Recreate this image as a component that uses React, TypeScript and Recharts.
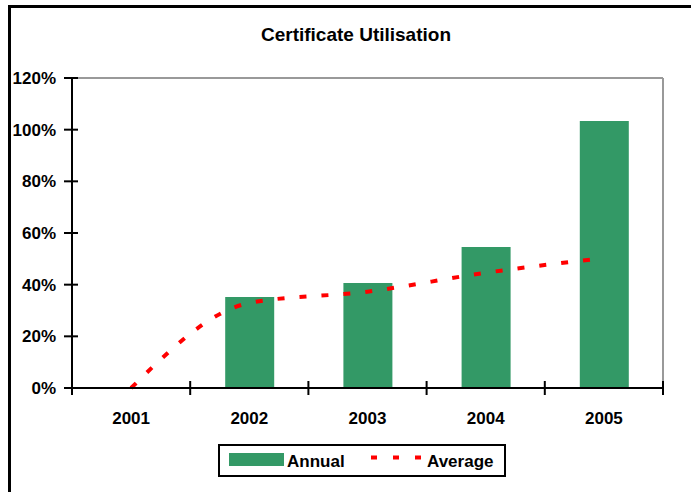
import React from "react";
import {
  ComposedChart,
  Bar,
  Line,
  XAxis,
  YAxis,
} from "recharts";

const years = ["2001", "2002", "2003", "2004", "2005"];
const annual = [0, 35.2, 40.6, 54.6, 103.4];
const average = [0, 32.9, 37.3, 44.6, 50.3];
const yTicks = [0, 20, 40, 60, 80, 100, 120];

const data = years.map((year, i) => ({
  year,
  annual: annual[i],
  average: average[i],
}));

const FONT = "Arial, 'Liberation Sans', sans-serif";
const GREEN = "#339966";
const RED = "#ff0000";
const HALF_BAND = 59.1;

function YTick(props: any) {
  const { x, y, payload } = props;
  return (
    <g>
      <line x1={x - 8} x2={x + 6} y1={y} y2={y} stroke="#000" strokeWidth={2} />
      <text
        x={x - 16}
        y={y}
        dy={6}
        textAnchor="end"
        fontFamily={FONT}
        fontWeight="bold"
        fontSize={17}
        fill="#000"
      >
        {payload.value}%
      </text>
    </g>
  );
}

function XTick(props: any) {
  const { x, y, payload, index } = props;
  return (
    <g>
      <line
        x1={x - HALF_BAND}
        x2={x - HALF_BAND}
        y1={y - 7}
        y2={y + 7}
        stroke="#000"
        strokeWidth={2}
      />
      {index === years.length - 1 && (
        <line
          x1={x + HALF_BAND}
          x2={x + HALF_BAND}
          y1={y - 7}
          y2={y + 7}
          stroke="#000"
          strokeWidth={2}
        />
      )}
      <text
        x={x}
        y={y}
        dy={36}
        textAnchor="middle"
        fontFamily={FONT}
        fontWeight="bold"
        fontSize={17}
        fill="#000"
      >
        {payload.value}
      </text>
    </g>
  );
}

export default function App() {
  return (
    <div
      style={{
        position: "absolute",
        left: 0,
        top: 0,
        width: 691,
        height: 492,
        background: "#fff",
        fontFamily: FONT,
      }}
    >
      <div
        style={{
          position: "absolute",
          left: 8,
          top: 5,
          width: 700,
          height: 500,
          borderLeft: "3px solid #000",
          borderTop: "3px solid #000",
        }}
      />
      <div
        style={{
          position: "absolute",
          left: 0,
          width: 712,
          top: 24,
          textAlign: "center",
          fontWeight: "bold",
          fontSize: 19,
          lineHeight: "22px",
        }}
      >
        Certificate Utilisation
      </div>
      <div style={{ position: "absolute", left: 0, top: 0 }}>
        <ComposedChart
          width={691}
          height={492}
          data={data}
          margin={{ top: 77, right: 27, bottom: 74, left: 12 }}
          barCategoryGap={0}
        >
          <XAxis
            dataKey="year"
            xAxisId="bottom"
            axisLine={{ stroke: "#000", strokeWidth: 2 }}
            tickLine={false}
            tickSize={0}
            tickMargin={0}
            height={30}
            interval={0}
            tick={<XTick />}
          />
          <XAxis
            dataKey="year"
            xAxisId="top"
            orientation="top"
            height={1}
            axisLine={{ stroke: "#999", strokeWidth: 2 }}
            tick={false}
            tickLine={false}
          />
          <YAxis
            yAxisId="left"
            domain={[0, 120]}
            ticks={yTicks}
            width={60}
            axisLine={{ stroke: "#000", strokeWidth: 2 }}
            tickLine={false}
            tickSize={0}
            tickMargin={0}
            interval={0}
            tick={<YTick />}
          />
          <YAxis
            yAxisId="right"
            orientation="right"
            domain={[0, 120]}
            width={1}
            axisLine={{ stroke: "#999", strokeWidth: 2 }}
            tick={false}
            tickLine={false}
          />
          <Line
            dataKey="annual"
            xAxisId="top"
            yAxisId="right"
            stroke="none"
            dot={false}
            activeDot={false}
            isAnimationActive={false}
          />
          <Bar
            dataKey="annual"
            xAxisId="bottom"
            yAxisId="left"
            fill={GREEN}
            barSize={49}
            isAnimationActive={false}
          />
          <Line
            dataKey="average"
            xAxisId="bottom"
            yAxisId="left"
            type="monotone"
            stroke={RED}
            strokeWidth={4}
            strokeDasharray="7 15"
            dot={false}
            activeDot={false}
            isAnimationActive={false}
          />
        </ComposedChart>
      </div>
      <div
        style={{
          position: "absolute",
          left: 218,
          top: 444,
          width: 284,
          height: 29,
          border: "2px solid #000",
          background: "#fff",
        }}
      >
        <div
          style={{
            position: "absolute",
            left: 9,
            top: 7,
            width: 55,
            height: 13,
            background: GREEN,
          }}
        />
        <div
          style={{
            position: "absolute",
            left: 67,
            top: 6,
            fontWeight: "bold",
            fontSize: 17,
            lineHeight: "20px",
          }}
        >
          Annual
        </div>
        <svg
          style={{ position: "absolute", left: 151, top: 0 }}
          width={52}
          height={26}
        >
          <line
            x1={0}
            x2={52}
            y1={11.5}
            y2={11.5}
            stroke={RED}
            strokeWidth={4}
            strokeDasharray="6 16"
          />
        </svg>
        <div
          style={{
            position: "absolute",
            left: 207,
            top: 6,
            fontWeight: "bold",
            fontSize: 17,
            lineHeight: "20px",
          }}
        >
          Average
        </div>
      </div>
    </div>
  );
}
